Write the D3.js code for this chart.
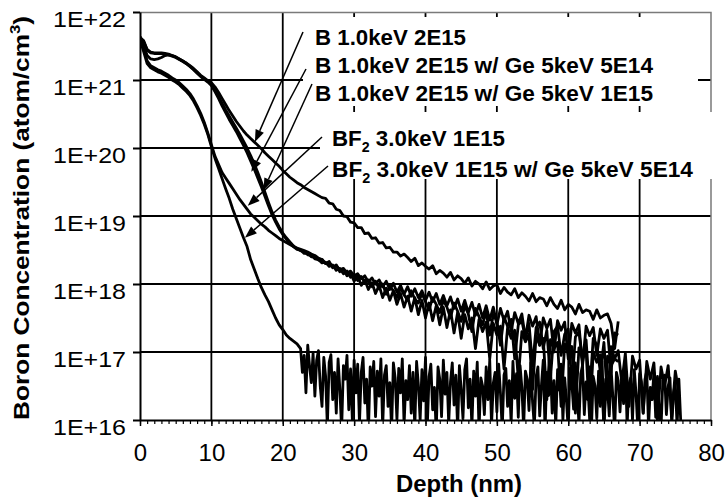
<!DOCTYPE html>
<html>
<head>
<meta charset="utf-8">
<script src="https://cdn.jsdelivr.net/npm/d3@7/dist/d3.min.js"></script>
<style>
  body { margin: 0; background: #fff; }
  text { font-family: "Liberation Sans", Arial, Helvetica, sans-serif; fill: #000; }
</style>
</head>
<body>
<div class="chart"></div>
<script>
const depthStep = 0.5;

const bImplant = [
  21.62,21.58,21.45,21.41,21.40,21.40,21.40,21.39,21.38,21.36,21.34,21.31,21.28,21.25,21.21,21.17,21.12,21.07,21.03,20.99,20.96,
  20.90,20.82,20.73,20.64,20.55,20.47,20.39,20.32,20.25,20.19,20.14,20.09,20.04,19.99,19.93,19.88,19.83,19.78,19.73,19.67,
  19.62,19.57,19.53,19.49,19.46,19.42,19.39,19.36,19.33,19.30,19.27,19.26,19.19,19.18,19.10,19.08,19.00,18.99,18.91,18.90,
  18.83,18.83,18.74,18.75,18.67,18.68,18.60,18.61,18.53,18.54,18.47,
  18.47,18.41,18.44,18.39,18.33,18.38,18.27,18.31,18.26,18.22,18.27,18.15,18.20,18.16,18.10,18.17,18.06,18.12,18.08,18.01,
  18.09,17.97,18.04,18.00,17.93,18.03,17.92,17.97,17.99,17.86,17.95,17.88,17.84,17.93,17.80,17.87,17.82,17.75,17.86,17.74,
  17.80,17.78,17.68,17.80,17.70,17.64,17.76,17.62,17.70,17.66,17.56,17.70,17.58,17.62,17.60,17.48,17.62,17.50,17.54,17.56,
  17.42,17.05,17.45
];

const bGe5e14 = [
  21.64,21.52,21.36,21.31,21.30,21.31,21.33,21.36,21.37,21.36,21.34,21.31,21.28,21.24,21.20,21.15,21.10,21.05,21.01,20.97,20.92,
  20.83,20.73,20.62,20.52,20.42,20.33,20.24,20.14,20.04,19.93,19.81,19.69,19.56,19.43,19.29,19.15,19.02,18.91,18.81,18.73,
  18.66,18.60,18.55,18.51,
  18.50,18.45,18.46,18.40,18.41,18.35,18.36,18.30,18.31,18.25,18.27,18.21,18.23,18.16,18.19,18.12,18.15,18.08,18.12,18.03,
  18.09,18.00,18.06,17.96,18.04,17.92,18.01,17.88,17.98,17.85,17.96,17.82,17.93,17.80,17.90,17.76,17.88,17.74,17.86,17.70,
  17.83,17.68,17.81,17.64,17.78,17.60,17.76,17.58,17.73,17.54,17.70,17.50,17.68,17.47,17.66,17.40,17.64,17.46,17.60,17.30,
  17.58,17.42,17.56,17.20,17.54,17.38,17.52,17.10,17.50,17.35,17.48,17.00,17.46,17.32,17.44,16.90,17.42,17.28,17.40,16.80,
  17.38,17.24,17.36,16.95,17.34,17.20,17.32,16.70,17.28,17.25
];

const bGe1e15 = [
  21.63,21.57,21.44,21.40,21.39,21.39,21.39,21.38,21.37,21.35,21.33,21.30,21.27,21.24,21.20,21.16,21.11,21.06,21.02,20.98,20.93,
  20.85,20.76,20.66,20.56,20.47,20.38,20.29,20.20,20.10,20.00,19.89,19.77,19.64,19.50,19.35,19.20,19.06,18.94,18.84,18.75,
  18.68,18.62,18.56,
  18.52,18.49,18.47,18.43,18.42,18.37,18.36,18.31,18.32,18.26,18.28,18.20,18.23,18.15,18.19,18.10,18.14,18.05,18.11,18.02,
  18.06,17.96,18.04,17.93,18.00,17.85,17.97,17.90,17.80,17.94,17.84,17.76,17.90,17.78,17.72,17.86,17.74,17.62,17.80,17.70,
  17.58,17.76,17.66,17.50,17.72,17.60,17.45,17.68,17.56,17.30,17.64,17.52,17.40,17.60,17.25,17.55,17.46,17.10,17.52,17.38,
  17.48,16.90,17.40,17.46,17.20,17.42,16.80,17.36,17.44,17.05,17.32,16.60,17.30,17.38,16.95,17.26,17.34,16.50,17.22,17.30,
  16.85,17.18,16.40,17.20,17.10,16.70,17.14,16.30,17.08,16.90,17.02,16.55,16.98,16.20,16.94,16.75,16.88,16.10,16.86,16.60,
  16.84,16.00,16.78,16.50,16.80,16.05,16.72,16.40
];

const bf2Implant = [
  21.56,21.46,21.28,21.21,21.18,21.15,21.13,21.10,21.07,21.03,21.00,20.96,20.91,20.86,20.80,20.72,20.62,20.51,20.38,20.22,20.05,
  19.88,19.76,19.64,19.56,19.48,19.40,19.32,19.24,19.17,19.10,19.03,18.98,18.93,18.88,18.84,18.79,18.75,18.71,18.67,18.64,
  18.61,18.58,18.55,18.53,18.51,18.49,
  18.47,18.44,18.42,18.38,18.36,18.30,18.33,18.24,18.28,18.18,18.22,18.12,18.16,18.04,18.12,17.98,18.06,17.92,18.02,17.86,
  17.98,17.80,17.94,17.76,17.90,17.70,17.86,17.66,17.82,17.60,17.80,17.55,17.76,17.50,17.72,17.46,17.68,17.40,17.66,17.36,
  17.62,17.28,17.58,17.20,17.55,17.34,17.50,17.05,17.48,17.30,17.44,16.90,17.42,17.25,17.38,16.75,17.36,17.20,17.32,16.60,
  17.30,17.15,17.26,16.45,17.24,17.10,17.20,16.30,17.18,17.05,17.14,16.20,17.12,16.98,17.08,16.10,17.06,16.90,17.02,16.00,
  17.00,16.85,16.96,15.90,16.94,16.80,16.90,16.86
];

// BF2 + Ge: steep part every 0.5 nm, then the noisy floor every 0.25 nm from 22.5 nm
const bf2Ge5e14 = [
  21.60,21.42,21.24,21.18,21.15,21.12,21.10,21.07,21.04,21.00,20.97,20.93,20.88,20.83,20.77,20.69,20.59,20.48,20.35,20.20,20.02,
  19.85,19.70,19.55,19.40,19.26,19.10,18.96,18.82,18.68,18.55,18.36,18.22,18.08,17.95,17.84,17.74,17.62,17.50,17.40,17.33,
  17.25,17.20,17.16,17.12
];
const floorStart = 22.5;
const floorStep = 0.25;
const bf2Ge5e14Floor = [
  17.05,16.70,16.95,16.40,17.10,16.80,16.55,16.98,16.35,16.88,17.02,
  16.50,16.20,16.92,16.65,15.90,16.85,16.96,16.30,16.70,16.10,
  16.90,16.45,15.85,16.80,16.60,16.95,16.15,16.75,16.00,16.88,
  16.40,16.82,15.95,16.70,16.92,16.25,16.60,15.80,16.78,16.50,
  16.86,16.05,16.72,16.35,16.90,15.90,16.66,16.80,16.20,16.55,
  15.85,16.84,16.62,16.00,16.76,16.40,16.90,15.92,16.58,16.30,
  16.80,16.10,16.70,15.88,16.86,16.52,16.00,16.74,16.28,16.92,
  15.90,16.64,16.82,16.15,16.48,15.82,16.78,16.60,16.05,16.88,
  16.38,16.70,15.95,16.56,16.84,16.22,16.66,15.86,16.80,16.45,
  16.02,16.74,16.90,16.18,16.60,15.90,16.72,16.35,16.85,15.84,
  16.62,16.50,16.08,16.78,16.30,16.88,15.92,16.54,16.70,16.12,
  16.82,16.40,15.86,16.66,16.76,16.20,16.58,15.95,16.86,16.32,
  16.68,16.04,16.80,16.48,15.88,16.72,16.60,16.14,16.84,16.26,
  15.90,16.64,16.78,16.06,16.52,16.88,15.84,16.70,16.36,16.80,
  16.10,16.58,15.92,16.74,16.44,16.82,16.00,16.62,16.28,15.86,
  16.76,16.54,16.16,16.84,16.40,15.94,16.68,16.80,16.08,16.56,
  16.30,16.78,15.88,16.64,16.50,16.02,16.72,16.20,16.86,15.90,
  16.60,16.46,16.06,16.76,16.34,15.84,16.70,16.58,16.12,16.66,
  16.24,16.80,15.92,16.52,16.62,16.00,16.74,16.38,15.86,16.68,
  16.56,16.10,16.60,16.72,15.90,16.48,16.30,16.70,16.04,16.64,
  16.20,15.88,16.58,16.66,16.08,16.50,16.62,15.92,16.40,16.54,
  15.90,16.60,16.00
];

// label text (second part follows a subscript 2), arrow tip [depth nm, log10 conc]
const legendLabels = [
  ["B 1.0keV 2E15", ""],
  ["B 1.0keV 2E15 w/ Ge 5keV 5E14", ""],
  ["B 1.0keV 2E15 w/ Ge 5keV 1E15", ""],
  ["BF", " 3.0keV 1E15"],
  ["BF", " 3.0keV 1E15 w/ Ge 5keV 5E14"]
];
const arrowTips = [[16.1, 20.09], [15.6, 19.65], [17.3, 19.38], [15.1, 19.15], [14.7, 18.68]];

const xTicks = [0, 10, 20, 30, 40, 50, 60, 70, 80];
const yTicks = [1e16, 1e17, 1e18, 1e19, 1e20, 1e21, 1e22];
const yTickLabels = ["1E+16", "1E+17", "1E+18", "1E+19", "1E+20", "1E+21", "1E+22"];

//SET UP for svg
let svgWidth = 726;
let svgHeight = 499;
const margin = {top: 12, right: 15, bottom: 79, left: 140};
let chartWidth = svgWidth - margin.left - margin.right;
let chartHeight = svgHeight - margin.top - margin.bottom;

let svg = d3.select(".chart")
  .append("svg")
  .attr("width", svgWidth)
  .attr("height", svgHeight);

let chart = svg.append("g")
  .attr("transform", `translate(${margin.left},${margin.top})`);

let x = d3.scaleLinear().domain([0, 80]).range([0, chartWidth]);
let y = d3.scaleLog().domain([1e16, 1e22]).range([chartHeight, 0]);

svg.append("defs").append("clipPath").attr("id", "plotClip")
  .append("rect").attr("width", chartWidth).attr("height", chartHeight);

// gridlines
chart.append("g").selectAll("line")
  .data(xTicks.slice(1, -1))
  .enter().append("line")
  .attr("x1", d => x(d)).attr("x2", d => x(d))
  .attr("y1", 0).attr("y2", chartHeight)
  .attr("stroke", "#000").attr("stroke-width", 1.8);

chart.append("g").selectAll("line")
  .data(yTicks.slice(1, -1))
  .enter().append("line")
  .attr("x1", 0).attr("x2", chartWidth)
  .attr("y1", d => y(d)).attr("y2", d => y(d))
  .attr("stroke", "#000").attr("stroke-width", 1.8);

// white text boxes (they hide the grid)
let boxes = [
  {x: 303, y: 17, w: 395, h: 89},
  {x: 320, y: 112, w: 392, h: 67}
];
svg.append("g").selectAll("rect")
  .data(boxes)
  .enter().append("rect")
  .attr("x", d => d.x).attr("y", d => d.y)
  .attr("width", d => d.w).attr("height", d => d.h)
  .attr("fill", "#fff");

// plot frame (top + right)
chart.append("path")
  .attr("d", `M0,0.5H${chartWidth}V${chartHeight}`)
  .attr("fill", "none").attr("stroke", "#7a7a7a").attr("stroke-width", 1.5);

// profiles as [depth, log10 conc] points
let profiles = [bImplant, bGe5e14, bGe1e15, bf2Implant].map(arr => arr.map((v, i) => [i * depthStep, v]));
profiles.push(
  bf2Ge5e14.map((v, i) => [i * depthStep, v])
    .concat(bf2Ge5e14Floor.map((v, i) => [floorStart + i * floorStep, v]))
);

let line = d3.line()
  .x(d => x(d[0]))
  .y(d => y(Math.pow(10, d[1])));

chart.append("g").attr("clip-path", "url(#plotClip)")
  .selectAll("path")
  .data(profiles)
  .enter().append("path")
  .attr("d", line)
  .attr("fill", "none")
  .attr("stroke", "#000")
  .attr("stroke-width", 2.8)
  .attr("stroke-linejoin", "round");

// axes
let leftAxis = d3.axisLeft(y)
  .tickValues(yTicks)
  .tickFormat((d, i) => yTickLabels[i])
  .tickSize(7).tickSizeOuter(0).tickPadding(7);

let gy = chart.append("g").call(leftAxis);
gy.select(".domain").attr("stroke-width", 2);
gy.selectAll(".tick line").attr("stroke-width", 2);
gy.selectAll("text")
  .attr("font-size", 22).attr("font-family", null)
  .attr("y", 7)
  .attr("textLength", 73).attr("lengthAdjust", "spacingAndGlyphs");

let minorAxis = d3.axisBottom(x)
  .tickValues(d3.range(0, 81, 1))
  .tickFormat("")
  .tickSize(4).tickSizeOuter(0);
let gm = chart.append("g").attr("transform", `translate(0,${chartHeight})`).call(minorAxis);
gm.selectAll(".tick line").attr("stroke-width", 1.2);
gm.select(".domain").remove();

let bottomAxis = d3.axisBottom(x)
  .tickValues(xTicks)
  .tickSize(6).tickSizeOuter(0).tickPadding(18);
let gx = chart.append("g").attr("transform", `translate(0,${chartHeight})`).call(bottomAxis);
gx.select(".domain").attr("stroke-width", 2);
gx.selectAll(".tick line").attr("stroke-width", 1.5);
gx.selectAll("text").attr("font-size", 24).attr("font-family", null);

// axis titles
svg.append("text")
  .attr("x", 459).attr("y", 492)
  .attr("text-anchor", "middle")
  .attr("font-size", 23).attr("font-weight", "bold")
  .attr("textLength", 126).attr("lengthAdjust", "spacingAndGlyphs")
  .text("Depth (nm)");

let yTitle = svg.append("text")
  .attr("transform", "translate(29,420) rotate(-90)")
  .attr("font-size", 22).attr("font-weight", "bold")
  .attr("textLength", 404).attr("lengthAdjust", "spacingAndGlyphs");
yTitle.append("tspan").text("Boron Concentration (atom/cm");
yTitle.append("tspan").attr("font-size", 14).attr("dy", -9).text("3");
yTitle.append("tspan").attr("dy", 9).text(")");

// labels
let labelPos = [[315, 45], [315, 73], [315, 101], [332, 146], [332, 177]];
let labelWidth = [151, 338, 338, 173, 361];
let arrowStart = [[303, 32], [306, 69], [312, 84], [322, 137], [328, 166]];

let labels = svg.append("g");
legendLabels.forEach((lab, i) => {
  let t = labels.append("text")
    .attr("x", labelPos[i][0]).attr("y", labelPos[i][1])
    .attr("font-size", 22).attr("font-weight", "bold")
    .attr("textLength", labelWidth[i]).attr("lengthAdjust", "spacingAndGlyphs");
  t.append("tspan").text(lab[0]);
  if (lab[1]) {
    t.append("tspan").attr("font-size", 14).attr("dy", 6).text("2");
    t.append("tspan").attr("dy", -6).text(lab[1]);
  }
});

// arrows
let arrows = svg.append("g");
arrowTips.forEach((tip, i) => {
  let tx = margin.left + x(tip[0]);
  let ty = margin.top + y(Math.pow(10, tip[1]));
  let sx = arrowStart[i][0], sy = arrowStart[i][1];
  let ang = Math.atan2(ty - sy, tx - sx);
  let len = 12, half = 4.5;
  let bx = tx - len * Math.cos(ang), by = ty - len * Math.sin(ang);
  arrows.append("line")
    .attr("x1", sx).attr("y1", sy).attr("x2", bx).attr("y2", by)
    .attr("stroke", "#000").attr("stroke-width", 1.5);
  arrows.append("path")
    .attr("d", `M${tx},${ty}L${bx + half * Math.sin(ang)},${by - half * Math.cos(ang)}L${bx - half * Math.sin(ang)},${by + half * Math.cos(ang)}Z`)
    .attr("fill", "#000");
});
</script>
</body>
</html>
